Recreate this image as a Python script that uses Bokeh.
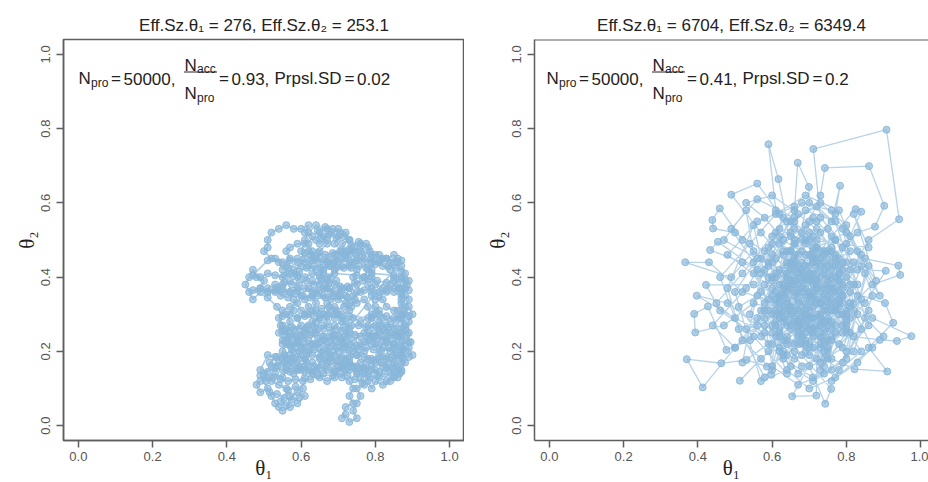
from bokeh.embed import file_html
from bokeh.layouts import row
from bokeh.models import (BoxAnnotation, FixedTicker, Label, PrintfTickFormatter,
                          Range1d, Span)
from bokeh.plotting import figure
from bokeh.resources import INLINE

# Metropolis chain, proposal SD 0.02 (small steps, high acceptance)
small_theta1 = [
    0.70, 0.71, 0.69, 0.68, 0.66, 0.67, 0.65, 0.66, 0.68, 0.67,
    0.69, 0.70, 0.72, 0.71, 0.69, 0.70, 0.68, 0.66, 0.67, 0.65,
    0.64, 0.63, 0.62, 0.63, 0.61, 0.62, 0.60, 0.58, 0.56, 0.54,
    0.52, 0.51, 0.51, 0.50, 0.52, 0.54, 0.55, 0.56, 0.57, 0.56,
    0.57, 0.59, 0.61, 0.60, 0.61, 0.60, 0.58, 0.59, 0.57, 0.55,
    0.53, 0.51, 0.49, 0.47, 0.46, 0.45, 0.46, 0.47, 0.48, 0.50,
    0.49, 0.51, 0.53, 0.55, 0.57, 0.59, 0.60, 0.59, 0.57, 0.55,
    0.54, 0.55, 0.54, 0.55, 0.57, 0.58, 0.60, 0.59, 0.61, 0.62,
    0.61, 0.63, 0.64, 0.63, 0.65, 0.64, 0.62, 0.61, 0.59, 0.60,
    0.58, 0.57, 0.59, 0.61, 0.62, 0.63, 0.65, 0.66, 0.64, 0.66,
    0.67, 0.66, 0.68, 0.67, 0.69, 0.70, 0.71, 0.69, 0.68, 0.69,
    0.67, 0.68, 0.70, 0.71, 0.72, 0.73, 0.72, 0.74, 0.76, 0.78,
    0.79, 0.80, 0.81, 0.82, 0.84, 0.86, 0.88, 0.89, 0.90, 0.89,
    0.88, 0.86, 0.87, 0.85, 0.83, 0.84, 0.82, 0.80, 0.81, 0.79,
    0.80, 0.82, 0.84, 0.86, 0.88, 0.90, 0.89, 0.87, 0.88, 0.87,
    0.88, 0.87, 0.86, 0.87, 0.87, 0.85, 0.86, 0.88, 0.89, 0.88,
    0.87, 0.86, 0.84, 0.84, 0.81, 0.82, 0.80, 0.79, 0.79, 0.79,
    0.80, 0.82, 0.84, 0.83, 0.81, 0.79, 0.78, 0.77, 0.78, 0.77,
    0.75, 0.76, 0.74, 0.73, 0.74, 0.75, 0.74, 0.75, 0.76, 0.74,
    0.73, 0.72, 0.73, 0.75, 0.77, 0.78, 0.79, 0.78, 0.77, 0.78,
    0.76, 0.77, 0.75, 0.76, 0.78, 0.80, 0.82, 0.84, 0.85, 0.83,
    0.81, 0.80, 0.78, 0.76, 0.77, 0.75, 0.76, 0.75, 0.74, 0.75,
    0.73, 0.72, 0.71, 0.72, 0.74, 0.73, 0.74, 0.73, 0.71, 0.72,
    0.70, 0.71, 0.73, 0.74, 0.72, 0.69, 0.67, 0.66, 0.64, 0.63,
    0.62, 0.61, 0.60, 0.58, 0.56, 0.55, 0.53, 0.51, 0.49, 0.48,
    0.49, 0.51, 0.52, 0.53, 0.54, 0.55, 0.57, 0.59, 0.61, 0.59,
    0.57, 0.56, 0.54, 0.52, 0.50, 0.52, 0.54, 0.56, 0.56, 0.55,
    0.56, 0.58, 0.60, 0.62, 0.64, 0.66, 0.65, 0.67, 0.69, 0.71,
    0.73, 0.75, 0.77, 0.79, 0.81, 0.83, 0.85, 0.86, 0.87, 0.85,
    0.82, 0.80, 0.78, 0.76, 0.74, 0.72, 0.70, 0.68, 0.66, 0.64,
    0.63, 0.65, 0.67, 0.69, 0.71, 0.73, 0.72, 0.70, 0.68, 0.66,
    0.64, 0.62, 0.63, 0.65, 0.67, 0.68, 0.69, 0.71, 0.73, 0.72,
    0.71, 0.73, 0.72, 0.70, 0.67, 0.65, 0.64, 0.65, 0.67, 0.64,
    0.62, 0.61, 0.62, 0.63, 0.62, 0.64, 0.66, 0.65, 0.67, 0.69,
    0.70, 0.72, 0.74, 0.76, 0.78, 0.79, 0.81, 0.83, 0.85, 0.86,
    0.88, 0.87, 0.88, 0.89, 0.88, 0.85, 0.83, 0.82, 0.80, 0.79,
    0.80, 0.81, 0.83, 0.85, 0.86, 0.85, 0.87, 0.88, 0.87, 0.86,
    0.84, 0.82, 0.80, 0.79, 0.78, 0.77, 0.75, 0.74, 0.72, 0.69,
    0.67, 0.65, 0.63, 0.61, 0.59, 0.57, 0.58, 0.60, 0.61, 0.59,
    0.57, 0.56, 0.56, 0.57, 0.56, 0.58, 0.58, 0.60, 0.62, 0.64,
    0.655, 0.675, 0.695, 0.715, 0.735, 0.745, 0.725, 0.705, 0.685, 0.665,
    0.645, 0.625, 0.605, 0.585, 0.565, 0.545, 0.535, 0.555, 0.575, 0.595,
    0.615, 0.635, 0.655, 0.675, 0.695, 0.705, 0.725, 0.745, 0.765, 0.785,
    0.805, 0.830, 0.850, 0.870, 0.885, 0.870, 0.855, 0.835, 0.800, 0.775,
    0.755, 0.735, 0.715, 0.695, 0.675, 0.655, 0.635, 0.615, 0.595, 0.575,
    0.555, 0.565, 0.590, 0.610, 0.625, 0.645, 0.665, 0.685, 0.705, 0.730,
    0.745, 0.765, 0.785, 0.775, 0.755, 0.735, 0.715, 0.695, 0.675, 0.655,
    0.645, 0.665, 0.685, 0.705, 0.730, 0.760, 0.790, 0.820, 0.850, 0.865,
    0.870, 0.875, 0.870,
    0.875, 0.855, 0.835, 0.815, 0.795, 0.775, 0.755, 0.735, 0.715, 0.695,
    0.675, 0.655, 0.635, 0.615, 0.595, 0.575, 0.555, 0.545,
    0.565, 0.585, 0.605, 0.625, 0.645, 0.665, 0.685, 0.705, 0.725, 0.745,
    0.785, 0.805, 0.825, 0.845, 0.865, 0.885, 0.895,
    0.875, 0.855, 0.835, 0.815, 0.795, 0.775, 0.755, 0.735, 0.715, 0.695,
    0.675, 0.655, 0.635, 0.615, 0.595, 0.575, 0.555, 0.535,
    0.515, 0.535, 0.555, 0.575, 0.595, 0.615, 0.635, 0.655, 0.675, 0.695,
    0.715, 0.735, 0.755, 0.775, 0.795, 0.815, 0.835, 0.855, 0.875,
    0.865, 0.845, 0.825, 0.805, 0.785, 0.765, 0.745, 0.725, 0.705, 0.685,
    0.645, 0.625, 0.605, 0.585, 0.565, 0.545, 0.525, 0.505, 0.490,
    0.515, 0.535, 0.555, 0.575, 0.595, 0.605, 0.585, 0.565, 0.545, 0.560,
    0.87, 0.85, 0.83, 0.81, 0.79, 0.77, 0.75, 0.73, 0.71, 0.69,
    0.67, 0.65, 0.63, 0.61, 0.59, 0.57, 0.55, 0.53, 0.51,
    0.47, 0.49, 0.51, 0.53, 0.55, 0.57, 0.59, 0.61, 0.63, 0.65,
    0.67, 0.69, 0.75, 0.77, 0.79, 0.85, 0.87,
    0.89, 0.87, 0.85, 0.83, 0.81, 0.79, 0.77, 0.75, 0.73, 0.71,
    0.69, 0.67, 0.65, 0.63, 0.61, 0.59, 0.57, 0.55, 0.53, 0.51,
    0.49, 0.47, 0.51, 0.535,
    0.55, 0.57, 0.59, 0.61, 0.63, 0.65, 0.67, 0.69, 0.71, 0.73,
    0.79, 0.81, 0.83, 0.85, 0.87, 0.89,
    0.89, 0.87, 0.85, 0.83, 0.81, 0.79, 0.73, 0.71, 0.69, 0.63,
    0.61, 0.59, 0.57, 0.55,
    0.55, 0.57, 0.59, 0.61, 0.63, 0.65, 0.67, 0.69, 0.71, 0.73,
    0.75, 0.77, 0.79, 0.81, 0.83, 0.85, 0.87, 0.89,
    0.89, 0.87, 0.85, 0.83, 0.81, 0.79, 0.77, 0.75, 0.73, 0.71,
    0.69, 0.67, 0.65, 0.63, 0.61, 0.59, 0.57, 0.55, 0.53, 0.51,
    0.49, 0.51, 0.53, 0.55, 0.57, 0.59, 0.61, 0.63, 0.65, 0.67,
    0.69, 0.71, 0.73, 0.75, 0.77, 0.79, 0.81, 0.83, 0.85, 0.87,
]
small_theta2 = [
    0.35, 0.37, 0.38, 0.36, 0.37, 0.39, 0.40, 0.42, 0.43, 0.45,
    0.46, 0.44, 0.45, 0.47, 0.49, 0.51, 0.52, 0.51, 0.49, 0.47,
    0.45, 0.47, 0.49, 0.51, 0.52, 0.54, 0.53, 0.53, 0.54, 0.53,
    0.52, 0.50, 0.48, 0.47, 0.45, 0.44, 0.42, 0.43, 0.45, 0.47,
    0.48, 0.49, 0.49, 0.47, 0.45, 0.43, 0.42, 0.40, 0.39, 0.38,
    0.38, 0.37, 0.36, 0.34, 0.36, 0.38, 0.40, 0.42, 0.40, 0.39,
    0.37, 0.36, 0.36, 0.36, 0.36, 0.37, 0.35, 0.33, 0.32, 0.31,
    0.29, 0.27, 0.25, 0.23, 0.24, 0.26, 0.27, 0.29, 0.30, 0.32,
    0.34, 0.35, 0.33, 0.31, 0.30, 0.28, 0.27, 0.25, 0.23, 0.21,
    0.20, 0.18, 0.17, 0.18, 0.20, 0.22, 0.21, 0.23, 0.25, 0.26,
    0.28, 0.30, 0.31, 0.33, 0.32, 0.30, 0.28, 0.27, 0.25, 0.23,
    0.21, 0.19, 0.20, 0.22, 0.24, 0.26, 0.28, 0.29, 0.28, 0.29,
    0.30, 0.32, 0.31, 0.29, 0.28, 0.29, 0.30, 0.32, 0.30, 0.28,
    0.26, 0.25, 0.23, 0.22, 0.23, 0.25, 0.26, 0.27, 0.25, 0.24,
    0.22, 0.21, 0.20, 0.19, 0.20, 0.19, 0.21, 0.21, 0.23, 0.25,
    0.27, 0.29, 0.31, 0.33, 0.35, 0.36, 0.38, 0.37, 0.39, 0.41,
    0.43, 0.45, 0.44, 0.42, 0.44, 0.45, 0.46, 0.44, 0.42, 0.40,
    0.38, 0.37, 0.38, 0.36, 0.35, 0.36, 0.38, 0.40, 0.42, 0.44,
    0.45, 0.47, 0.48, 0.46, 0.44, 0.42, 0.40, 0.38, 0.36, 0.35,
    0.37, 0.35, 0.33, 0.33, 0.34, 0.32, 0.29, 0.27, 0.25, 0.23,
    0.22, 0.20, 0.19, 0.17, 0.18, 0.17, 0.16, 0.15, 0.13, 0.12,
    0.13, 0.15, 0.14, 0.13, 0.11, 0.10, 0.08, 0.06, 0.04, 0.02,
    0.01, 0.03, 0.02, 0.05, 0.06, 0.08, 0.10, 0.12, 0.13, 0.15,
    0.16, 0.18, 0.19, 0.21, 0.21, 0.17, 0.16, 0.14, 0.15, 0.17,
    0.15, 0.13, 0.15, 0.14, 0.15, 0.13, 0.14, 0.13, 0.12, 0.11,
    0.09, 0.10, 0.08, 0.06, 0.05, 0.04, 0.05, 0.06, 0.08, 0.09,
    0.08, 0.10, 0.11, 0.12, 0.14, 0.16, 0.17, 0.16, 0.18, 0.20,
    0.22, 0.22, 0.24, 0.23, 0.22, 0.20, 0.18, 0.17, 0.15, 0.16,
    0.17, 0.16, 0.15, 0.16, 0.18, 0.18, 0.17, 0.15, 0.17, 0.19,
    0.23, 0.24, 0.25, 0.24, 0.23, 0.22, 0.24, 0.23, 0.24, 0.26,
    0.28, 0.29, 0.30, 0.29, 0.30, 0.31, 0.33, 0.34, 0.34, 0.35,
    0.36, 0.37, 0.39, 0.38, 0.37, 0.40, 0.42, 0.43, 0.43, 0.47,
    0.49, 0.50, 0.52, 0.53, 0.50, 0.49, 0.50, 0.52, 0.53, 0.54,
    0.52, 0.50, 0.47, 0.45, 0.43, 0.42, 0.41, 0.44, 0.44, 0.44,
    0.46, 0.46, 0.47, 0.49, 0.48, 0.46, 0.46, 0.45, 0.46, 0.44,
    0.39, 0.37, 0.35, 0.34, 0.32, 0.31, 0.32, 0.34, 0.34, 0.35,
    0.30, 0.28, 0.27, 0.26, 0.24, 0.21, 0.19, 0.17, 0.15, 0.13,
    0.12, 0.11, 0.12, 0.10, 0.12, 0.14, 0.14, 0.16, 0.17, 0.13,
    0.12, 0.13, 0.14, 0.16, 0.15, 0.16, 0.18, 0.19, 0.21, 0.22,
    0.22, 0.24, 0.26, 0.28, 0.30, 0.31, 0.34, 0.31, 0.30, 0.31,
    0.315, 0.320, 0.310, 0.320, 0.320, 0.340, 0.345, 0.350, 0.350, 0.345,
    0.350, 0.345, 0.350, 0.355, 0.345, 0.350, 0.370, 0.385, 0.380, 0.385,
    0.390, 0.380, 0.390, 0.385, 0.390, 0.375, 0.375, 0.385, 0.390, 0.395,
    0.390, 0.385, 0.390, 0.395, 0.380, 0.415, 0.425, 0.430, 0.435, 0.425,
    0.430, 0.425, 0.425, 0.425, 0.430, 0.425, 0.430, 0.425, 0.415, 0.410,
    0.405, 0.425, 0.440, 0.465, 0.460, 0.465, 0.460, 0.465, 0.470, 0.475,
    0.465, 0.460, 0.470, 0.490, 0.495, 0.485, 0.510, 0.505, 0.515, 0.505,
    0.525, 0.535, 0.530, 0.520, 0.500, 0.480, 0.450, 0.430, 0.400, 0.370,
    0.340, 0.310, 0.285,
    0.265, 0.270, 0.265, 0.270, 0.265, 0.265, 0.270, 0.270, 0.265, 0.260,
    0.265, 0.270, 0.265, 0.265, 0.260, 0.265, 0.255, 0.270,
    0.235, 0.240, 0.235, 0.245, 0.235, 0.235, 0.240, 0.235, 0.240, 0.245,
    0.235, 0.235, 0.240, 0.235, 0.240, 0.245, 0.225,
    0.205, 0.205, 0.210, 0.200, 0.205, 0.210, 0.205, 0.200, 0.205, 0.210,
    0.200, 0.195, 0.205, 0.195, 0.200, 0.205, 0.190, 0.185,
    0.170, 0.160, 0.170, 0.170, 0.160, 0.170, 0.160, 0.165, 0.180, 0.175,
    0.165, 0.160, 0.155, 0.165, 0.175, 0.170, 0.165, 0.160, 0.180,
    0.140, 0.135, 0.140, 0.135, 0.130, 0.115, 0.125, 0.135, 0.140, 0.135,
    0.135, 0.125, 0.120, 0.125, 0.120, 0.125, 0.130, 0.120, 0.135,
    0.090, 0.085, 0.075, 0.070, 0.075, 0.100, 0.105, 0.095, 0.065, 0.055,
    0.445, 0.440, 0.450, 0.445, 0.440, 0.450, 0.445, 0.440, 0.450, 0.445,
    0.440, 0.450, 0.445, 0.440, 0.450, 0.445, 0.440, 0.450, 0.445,
    0.405, 0.400, 0.410, 0.405, 0.400, 0.410, 0.405, 0.400, 0.410, 0.405,
    0.400, 0.410, 0.405, 0.400, 0.410, 0.405, 0.400,
    0.365, 0.360, 0.370, 0.365, 0.360, 0.370, 0.365, 0.360, 0.370, 0.365,
    0.360, 0.370, 0.365, 0.360, 0.370, 0.365, 0.360, 0.370, 0.365, 0.360,
    0.370, 0.365, 0.345, 0.320,
    0.295, 0.300, 0.290, 0.295, 0.300, 0.290, 0.295, 0.300, 0.290, 0.295,
    0.290, 0.300, 0.295, 0.290, 0.300, 0.295,
    0.250, 0.255, 0.245, 0.250, 0.255, 0.245, 0.250, 0.255, 0.245, 0.250,
    0.255, 0.245, 0.250, 0.255,
    0.220, 0.215, 0.225, 0.220, 0.215, 0.225, 0.220, 0.215, 0.225, 0.220,
    0.215, 0.225, 0.220, 0.215, 0.225, 0.220, 0.215, 0.225,
    0.185, 0.190, 0.180, 0.185, 0.190, 0.180, 0.185, 0.190, 0.180, 0.185,
    0.190, 0.180, 0.185, 0.190, 0.180, 0.185, 0.190, 0.180, 0.185, 0.190,
    0.150, 0.145, 0.155, 0.150, 0.145, 0.155, 0.150, 0.145, 0.155, 0.150,
    0.145, 0.155, 0.150, 0.145, 0.155, 0.150, 0.145, 0.155, 0.150, 0.145,
]

# Metropolis chain, proposal SD 0.2 (long jumps, lower acceptance)
large_theta1 = [
    0.68, 0.74, 0.62, 0.71, 0.78, 0.66, 0.58, 0.64, 0.75, 0.70,
    0.81, 0.73, 0.711, 0.908, 0.942, 0.86, 0.79, 0.69, 0.60, 0.66,
    0.74, 0.80, 0.72, 0.63, 0.55, 0.49, 0.366, 0.43, 0.52, 0.61,
    0.67, 0.76, 0.83, 0.906, 0.85, 0.77, 0.70, 0.743, 0.759, 0.68,
    0.62, 0.57, 0.65, 0.73, 0.68, 0.61, 0.59, 0.617, 0.64, 0.71,
    0.77, 0.72, 0.66, 0.58, 0.50, 0.397, 0.48, 0.56, 0.63, 0.70,
    0.76, 0.825, 0.84, 0.80, 0.74, 0.69, 0.64, 0.586, 0.531, 0.463,
    0.37, 0.413, 0.50, 0.58, 0.67, 0.75, 0.82, 0.89, 0.936, 0.975,
    0.87, 0.79, 0.71, 0.64, 0.57, 0.49, 0.56, 0.62, 0.66, 0.72,
    0.78, 0.73, 0.654, 0.719, 0.72, 0.69, 0.62, 0.56, 0.454, 0.433,
    0.52, 0.60, 0.68, 0.76, 0.83, 0.877, 0.902, 0.861, 0.742, 0.73,
    0.70, 0.65, 0.59, 0.54, 0.477, 0.427, 0.390, 0.393, 0.47, 0.55,
    0.62, 0.69, 0.75, 0.81, 0.904, 0.926, 0.86, 0.91, 0.822, 0.76,
    0.70, 0.65, 0.60, 0.66, 0.669, 0.699, 0.70, 0.76, 0.783, 0.77,
    0.72, 0.67, 0.61, 0.598, 0.63, 0.71, 0.78, 0.85, 0.94, 0.945,
    0.87, 0.80, 0.74, 0.68, 0.59, 0.513, 0.57, 0.64, 0.70, 0.66,
    0.59, 0.52, 0.459, 0.439, 0.441, 0.50, 0.58, 0.65, 0.72, 0.79,
    0.84, 0.78, 0.71, 0.67, 0.62, 0.55, 0.422, 0.46, 0.53, 0.61,
    0.68, 0.74, 0.80, 0.76, 0.69, 0.63, 0.58, 0.53, 0.60, 0.67,
    0.73, 0.78, 0.72, 0.65, 0.60, 0.66, 0.73, 0.79, 0.83, 0.77,
    0.70, 0.64, 0.57, 0.62, 0.69, 0.75, 0.82, 0.86, 0.80, 0.74,
    0.69, 0.63, 0.56, 0.51, 0.57, 0.65, 0.71, 0.76, 0.74, 0.70,
    0.66, 0.61, 0.67, 0.75, 0.81, 0.77, 0.70, 0.63, 0.59, 0.65,
    0.72, 0.78, 0.73, 0.66, 0.60, 0.55, 0.61, 0.68, 0.76, 0.82,
    0.79, 0.71, 0.64, 0.60, 0.67, 0.74, 0.71, 0.66, 0.72, 0.80,
    0.84, 0.78, 0.70, 0.62, 0.56, 0.61, 0.68, 0.75, 0.81, 0.76,
    0.69, 0.63, 0.67, 0.73, 0.79, 0.72, 0.65, 0.58, 0.64, 0.71,
    0.77, 0.73, 0.66, 0.60, 0.67, 0.74, 0.69, 0.62, 0.70, 0.77,
    0.72, 0.66, 0.61, 0.68, 0.75, 0.79, 0.74, 0.69, 0.62, 0.58,
    0.64, 0.71, 0.78, 0.83, 0.76, 0.70, 0.64, 0.68, 0.74, 0.70,
    0.63, 0.59, 0.66, 0.73, 0.80, 0.75, 0.68, 0.62, 0.67, 0.75,
    0.81, 0.77, 0.71, 0.65, 0.60, 0.66, 0.72, 0.78, 0.84, 0.79,
    0.73, 0.67, 0.62, 0.57, 0.63, 0.69, 0.76, 0.82, 0.78, 0.72,
    0.66, 0.61, 0.68, 0.74, 0.70, 0.64, 0.69, 0.76, 0.81, 0.75,
    0.70, 0.65, 0.71, 0.77, 0.72, 0.66, 0.61, 0.67, 0.73, 0.79,
    0.74, 0.68, 0.63, 0.69, 0.76, 0.71, 0.65, 0.70, 0.78, 0.73,
    0.67, 0.62, 0.68, 0.74, 0.80, 0.76, 0.71, 0.64, 0.60, 0.66,
    0.72, 0.77, 0.73, 0.67, 0.63, 0.69, 0.75, 0.71, 0.66, 0.72,
    0.64, 0.70, 0.76, 0.71, 0.65, 0.59, 0.63, 0.69, 0.75, 0.80,
    0.74, 0.68, 0.62, 0.66, 0.72, 0.78, 0.73, 0.67, 0.61, 0.65,
    0.71, 0.77, 0.82, 0.76, 0.70, 0.64, 0.58, 0.62, 0.68, 0.74,
    0.79, 0.73, 0.67, 0.63, 0.69, 0.75, 0.70, 0.64, 0.60, 0.66,
    0.72, 0.78, 0.83, 0.77, 0.71, 0.65, 0.61, 0.67, 0.73, 0.79,
    0.75, 0.69, 0.63, 0.59, 0.65, 0.71, 0.77, 0.72, 0.66, 0.62,
    0.68, 0.74, 0.80, 0.76, 0.70, 0.64, 0.60, 0.66, 0.72, 0.78,
    0.73, 0.67, 0.62, 0.68, 0.75, 0.81, 0.77, 0.71, 0.65, 0.69,
    0.75, 0.71, 0.65, 0.60, 0.64, 0.70, 0.76, 0.79, 0.73, 0.67,
    0.63, 0.69, 0.75, 0.80, 0.74, 0.68, 0.64, 0.70, 0.76, 0.71,
    0.48, 0.56, 0.66, 0.52, 0.45, 0.55, 0.64, 0.58, 0.50, 0.44,
    0.53, 0.62, 0.86, 0.82, 0.88, 0.79, 0.85, 0.90, 0.83, 0.76,
    0.87, 0.81, 0.74, 0.84, 0.89, 0.80, 0.73, 0.66, 0.56, 0.49,
    0.55, 0.63, 0.58, 0.51, 0.46, 0.54, 0.61, 0.69, 0.78, 0.85,
    0.80, 0.86, 0.77, 0.70, 0.64, 0.57, 0.50, 0.56, 0.47, 0.53,
    0.60, 0.67, 0.74, 0.82, 0.87, 0.83, 0.76, 0.68, 0.61, 0.54,
    0.59, 0.52, 0.57, 0.65, 0.72, 0.81, 0.86, 0.79, 0.71, 0.63,
    0.55, 0.48, 0.52, 0.60, 0.69, 0.77, 0.84, 0.80, 0.73, 0.68,
]
large_theta2 = [
    0.36, 0.42, 0.30, 0.24, 0.33, 0.45, 0.38, 0.27, 0.29, 0.40,
    0.47, 0.56, 0.745, 0.797, 0.556, 0.50, 0.38, 0.31, 0.22, 0.18,
    0.20, 0.26, 0.34, 0.41, 0.47, 0.40, 0.44, 0.44, 0.36, 0.33,
    0.28, 0.36, 0.42, 0.417, 0.33, 0.25, 0.16, 0.059, 0.099, 0.19,
    0.26, 0.31, 0.37, 0.45, 0.52, 0.58, 0.758, 0.664, 0.55, 0.48,
    0.40, 0.30, 0.22, 0.25, 0.29, 0.35, 0.33, 0.27, 0.35, 0.43,
    0.51, 0.583, 0.576, 0.49, 0.37, 0.27, 0.19, 0.159, 0.177, 0.168,
    0.179, 0.103, 0.21, 0.29, 0.33, 0.31, 0.24, 0.231, 0.228, 0.241,
    0.29, 0.35, 0.38, 0.44, 0.52, 0.622, 0.652, 0.57, 0.49, 0.41,
    0.30, 0.22, 0.079, 0.081, 0.18, 0.29, 0.38, 0.42, 0.495, 0.473,
    0.44, 0.40, 0.39, 0.44, 0.52, 0.536, 0.592, 0.699, 0.694, 0.62,
    0.55, 0.47, 0.34, 0.23, 0.204, 0.321, 0.301, 0.251, 0.27, 0.33,
    0.31, 0.35, 0.39, 0.36, 0.33, 0.277, 0.21, 0.146, 0.152, 0.18,
    0.26, 0.31, 0.46, 0.58, 0.708, 0.643, 0.60, 0.55, 0.646, 0.57,
    0.50, 0.41, 0.28, 0.137, 0.23, 0.32, 0.41, 0.45, 0.431, 0.406,
    0.38, 0.31, 0.26, 0.22, 0.20, 0.121, 0.18, 0.24, 0.29, 0.36,
    0.43, 0.50, 0.585, 0.554, 0.531, 0.52, 0.47, 0.42, 0.37, 0.27,
    0.20, 0.15, 0.21, 0.26, 0.35, 0.38, 0.379, 0.31, 0.26, 0.24,
    0.32, 0.34, 0.40, 0.47, 0.46, 0.50, 0.56, 0.60, 0.62, 0.57,
    0.52, 0.45, 0.39, 0.30, 0.27, 0.20, 0.17, 0.21, 0.30, 0.37,
    0.33, 0.39, 0.45, 0.53, 0.49, 0.46, 0.38, 0.27, 0.20, 0.25,
    0.37, 0.32, 0.35, 0.32, 0.24, 0.16, 0.12, 0.15, 0.28, 0.39,
    0.44, 0.36, 0.25, 0.21, 0.29, 0.43, 0.50, 0.46, 0.31, 0.27,
    0.27, 0.36, 0.47, 0.53, 0.49, 0.41, 0.30, 0.24, 0.28, 0.33,
    0.44, 0.45, 0.36, 0.25, 0.14, 0.18, 0.29, 0.39, 0.48, 0.52,
    0.46, 0.34, 0.27, 0.20, 0.29, 0.41, 0.47, 0.40, 0.32, 0.23,
    0.20, 0.28, 0.38, 0.43, 0.48, 0.55, 0.51, 0.42, 0.33, 0.36,
    0.31, 0.24, 0.29, 0.37, 0.43, 0.38, 0.30, 0.24, 0.22, 0.27,
    0.33, 0.40, 0.45, 0.50, 0.53, 0.42, 0.32, 0.25, 0.21, 0.33,
    0.41, 0.46, 0.39, 0.35, 0.26, 0.19, 0.28, 0.37, 0.44, 0.52,
    0.56, 0.48, 0.43, 0.36, 0.29, 0.20, 0.16, 0.25, 0.34, 0.35,
    0.42, 0.50, 0.56, 0.47, 0.39, 0.31, 0.26, 0.22, 0.26, 0.33,
    0.40, 0.46, 0.42, 0.36, 0.29, 0.23, 0.24, 0.31, 0.43, 0.43,
    0.35, 0.27, 0.28, 0.31, 0.36, 0.47, 0.54, 0.48, 0.38, 0.27,
    0.21, 0.26, 0.35, 0.46, 0.53, 0.50, 0.40, 0.30, 0.24, 0.30,
    0.41, 0.44, 0.37, 0.33, 0.38, 0.44, 0.39, 0.31, 0.34, 0.29,
    0.27, 0.33, 0.41, 0.47, 0.44, 0.33, 0.25, 0.22, 0.30, 0.38,
    0.44, 0.36, 0.28, 0.22, 0.31, 0.39, 0.43, 0.34, 0.28, 0.38,
    0.30, 0.35, 0.40, 0.47, 0.52, 0.44, 0.36, 0.30, 0.23, 0.28,
    0.35, 0.42, 0.49, 0.55, 0.48, 0.41, 0.33, 0.27, 0.31, 0.38,
    0.45, 0.50, 0.44, 0.37, 0.29, 0.23, 0.27, 0.34, 0.40, 0.46,
    0.37, 0.30, 0.24, 0.19, 0.22, 0.28, 0.35, 0.43, 0.51, 0.46,
    0.39, 0.32, 0.38, 0.45, 0.51, 0.44, 0.34, 0.28, 0.21, 0.25,
    0.33, 0.40, 0.47, 0.40, 0.32, 0.26, 0.31, 0.37, 0.42, 0.35,
    0.29, 0.22, 0.27, 0.34, 0.41, 0.37, 0.44, 0.49, 0.45, 0.39,
    0.33, 0.36, 0.29, 0.24, 0.18, 0.25, 0.32, 0.39, 0.44, 0.50,
    0.47, 0.41, 0.32, 0.35, 0.40, 0.46, 0.42, 0.35, 0.27, 0.31,
    0.38, 0.43, 0.37, 0.30, 0.23, 0.26, 0.34, 0.41, 0.31, 0.29,
    0.46, 0.55, 0.59, 0.41, 0.33, 0.24, 0.14, 0.31, 0.21, 0.27,
    0.37, 0.51, 0.48, 0.57, 0.39, 0.53, 0.29, 0.24, 0.17, 0.12,
    0.21, 0.33, 0.16, 0.43, 0.35, 0.54, 0.60, 0.56, 0.61, 0.53,
    0.44, 0.20, 0.13, 0.26, 0.40, 0.49, 0.57, 0.62, 0.58, 0.41,
    0.18, 0.31, 0.13, 0.10, 0.15, 0.12, 0.36, 0.45, 0.50, 0.58,
    0.16, 0.11, 0.14, 0.20, 0.35, 0.47, 0.58, 0.60, 0.52, 0.30,
    0.22, 0.17, 0.41, 0.55, 0.59, 0.51, 0.43, 0.17, 0.13, 0.18,
    0.54, 0.37, 0.23, 0.15, 0.58, 0.55, 0.34, 0.25, 0.15, 0.42,
]

tick_values = [0.0, 0.2, 0.4, 0.6, 0.8, 1.0]
ess_theta1 = ["276", "6704"]
ess_theta2 = ["253.1", "6349.4"]
n_proposed = ["50000", "50000"]
accept_ratio = ["0.93", "0.41"]
proposal_sd = ["0.02", "0.2"]

TRACE = "#87b6d9"
FRAME = "#5e5e5e"
INK = "#222222"
SANS = "Liberation Sans"
SERIF = "Liberation Serif"

PAD = 0.04
FULL_FRAME = 401          # frame width/height covering -0.04 .. 1.04
MAIN_PT = "17px"
SUB_PT = "12px"


def text(p, s, sx, sy, size=MAIN_PT, **kw):
    p.add_layout(Label(x=sx, y=sy, x_units="screen", y_units="screen", text=s,
                       text_font=SANS, text_font_size=size, text_color=INK,
                       text_baseline="alphabetic", **kw))


def annotation(p, x0, n_pro, ratio, sd):
    # N_pro = n, N_acc / N_pro = ratio, Prpsl.SD = sd
    text(p, "N", x0, 362)
    text(p, "pro", x0 + 12.5, 358, SUB_PT)
    text(p, "=", x0 + 32.5, 362)
    text(p, n_pro + ",", x0 + 45, 362)
    fx = x0 + 106
    text(p, "N", fx, 375)
    text(p, "acc", fx + 12.5, 371.5, SUB_PT)
    p.add_layout(BoxAnnotation(left=fx - 0.5, right=fx + 32.5, bottom=367.9, top=369.1,
                               left_units="screen", right_units="screen",
                               bottom_units="screen", top_units="screen",
                               fill_color=INK, fill_alpha=1, line_color=None))
    text(p, "N", fx, 347)
    text(p, "pro", fx + 12.5, 343, SUB_PT)
    text(p, "=", x0 + 140.5, 362)
    text(p, ratio + ",", x0 + 153, 362)
    text(p, "Prpsl.SD", x0 + 196, 362)
    text(p, "=", x0 + 266, 362)
    text(p, sd, x0 + 278.5, 362)


def panel(i, t1, t2, border_left, frame_w, closed, x0):
    x_end = -PAD + frame_w * (1 + 2 * PAD) / FULL_FRAME
    p = figure(width=464, height=482,
               title=f"Eff.Sz.θ₁ = {ess_theta1[i]}, Eff.Sz.θ₂ = {ess_theta2[i]}",
               x_range=Range1d(-PAD, x_end), y_range=Range1d(-PAD, 1 + PAD),
               min_border_left=border_left, min_border_right=464 - border_left - frame_w,
               min_border_top=39, min_border_bottom=42,
               toolbar_location=None, output_backend="svg")
    p.title.align = "center"
    p.title.text_font = SANS
    p.title.text_font_size = "17px"
    p.title.text_font_style = "normal"
    p.title.text_color = INK
    p.title.standoff = 10

    p.xgrid.grid_line_color = None
    p.ygrid.grid_line_color = None
    p.background_fill_color = "white"
    p.border_fill_color = "white"
    p.outline_line_color = FRAME if closed else None
    p.outline_line_width = 1.5
    if not closed:
        p.add_layout(Span(location=1 + PAD, dimension="width",
                          line_color=FRAME, line_width=2))

    p.line(t1, t2, line_color=TRACE, line_width=1.6 if closed else 1.3,
           line_alpha=0.7 if closed else 0.6)
    p.scatter(t1, t2, marker="circle", size=7, fill_color=TRACE, fill_alpha=0.65,
              line_color=TRACE, line_alpha=0.9, line_width=1)

    for ax in (p.xaxis[0], p.yaxis[0]):
        ax.ticker = FixedTicker(ticks=tick_values)
        ax.formatter = PrintfTickFormatter(format="%.1f")
        ax.axis_line_color = FRAME
        ax.axis_line_width = 1.5
        ax.major_tick_line_color = FRAME
        ax.major_tick_line_width = 1.5
        ax.major_tick_out = 7
        ax.major_tick_in = 0
        ax.minor_tick_line_color = None
        ax.major_label_text_font = SANS
        ax.major_label_text_font_size = "13px"
        ax.major_label_text_color = "#555555"
        ax.axis_label_text_font = SERIF
        ax.axis_label_text_font_size = "21px"
        ax.axis_label_text_font_style = "normal"
        ax.axis_label_text_color = INK
    p.xaxis[0].major_label_standoff = 4
    p.yaxis[0].major_label_standoff = 6
    p.yaxis[0].major_label_orientation = "vertical"
    p.xaxis[0].axis_label = "θ₁"
    p.yaxis[0].axis_label = "θ₂"
    p.xaxis[0].axis_label_standoff = -8
    p.yaxis[0].axis_label_standoff = 0

    annotation(p, x0, n_proposed[i], accept_ratio[i], proposal_sd[i])
    return p


left = panel(0, small_theta1, small_theta2, 63, 401, True, 15)
right = panel(1, large_theta1, large_theta2, 70, 394, False, 12)

layout = row(left, right)
open("out.html", "w").write(file_html(layout, INLINE))
